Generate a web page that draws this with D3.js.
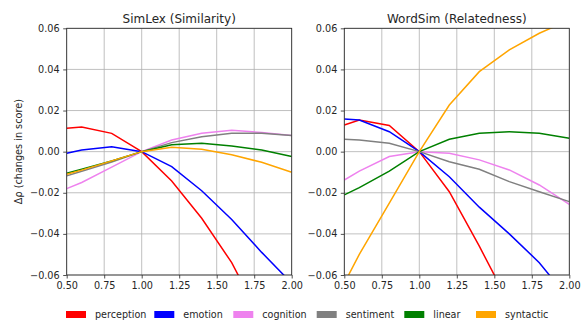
<!DOCTYPE html>
<html lang="en">
<head>
<meta charset="utf-8">
<script src="https://cdn.jsdelivr.net/npm/d3@7"></script>
<style>
  body { margin: 0; background: #fff; }
  svg text { font-family: "DejaVu Sans", sans-serif; fill: #262626; }
</style>
</head>
<body>
<div id="chart"></div>
<script>
// scaling factors on the x axis
var scales = [0.5, 0.6, 0.8, 1.0, 1.2, 1.4, 1.6, 1.8, 2.0];
var seriesNames = ["perception", "emotion", "cognition", "sentiment", "linear", "syntactic"];
var seriesColors = ["#ff0000", "#0000ff", "#ee82ee", "#808080", "#008000", "#ffa500"];
var xTicks = [0.5, 0.75, 1.0, 1.25, 1.5, 1.75, 2.0];
var yTicks = [-0.06, -0.04, -0.02, 0.0, 0.02, 0.04, 0.06];

// SimLex (Similarity)
var simPerception = [0.0114, 0.0120, 0.0089, 0, -0.0143, -0.0324, -0.054, -0.082, -0.105];
var simEmotion    = [-0.0008, 0.0008, 0.0024, 0, -0.0073, -0.0190, -0.033, -0.049, -0.064];
var simCognition  = [-0.0180, -0.0150, -0.0075, 0, 0.0057, 0.0089, 0.0104, 0.0093, 0.0078];
var simSentiment  = [-0.0118, -0.0095, -0.0050, 0, 0.0044, 0.0073, 0.0089, 0.0089, 0.0078];
var simLinear     = [-0.0105, -0.0085, -0.0045, 0, 0.0033, 0.0041, 0.0028, 0.0008, -0.0024];
var simSyntactic  = [-0.0110, -0.0090, -0.0045, 0, 0.0021, 0.0012, -0.0015, -0.0052, -0.0100];

// WordSim (Relatedness)
var wsPerception = [0.0130, 0.0154, 0.0127, 0, -0.0195, -0.046, -0.074, -0.100, -0.125];
var wsEmotion    = [0.0159, 0.0154, 0.0097, 0, -0.0122, -0.0270, -0.040, -0.054, -0.072];
var wsCognition  = [-0.0138, -0.0095, -0.0024, 0, -0.0008, -0.0040, -0.0089, -0.0162, -0.0256];
var wsSentiment  = [0.0060, 0.0057, 0.0041, 0, -0.0049, -0.0086, -0.0146, -0.0195, -0.0243];
var wsLinear     = [-0.0210, -0.0175, -0.0095, 0, 0.0060, 0.0089, 0.0097, 0.0089, 0.0065];
var wsSyntactic  = [-0.064, -0.050, -0.025, 0, 0.0227, 0.0389, 0.0495, 0.0576, 0.064];

var panels = [
  {title: "SimLex (Similarity)", left: 66.7, series: [simPerception, simEmotion, simCognition, simSentiment, simLinear, simSyntactic]},
  {title: "WordSim (Relatedness)", left: 344.3, series: [wsPerception, wsEmotion, wsCognition, wsSentiment, wsLinear, wsSyntactic]}
];

var W = 581, H = 320;
var pw = 225, plotTop = 28.3, plotBottom = 275;

var svg = d3.select("#chart").append("svg")
    .attr("width", W)
    .attr("height", H);

var y = d3.scaleLinear().domain([-0.06, 0.06]).range([plotBottom, plotTop]);
var fmt = d3.format(".2f");

panels.forEach(function(p, pi) {
  var x = d3.scaleLinear().domain([0.5, 2.0]).range([p.left, p.left + pw]);
  var g = svg.append("g");

  // grid
  g.append("g").selectAll("line").data(xTicks).enter().append("line")
      .attr("x1", function(d) { return x(d); }).attr("x2", function(d) { return x(d); })
      .attr("y1", plotTop).attr("y2", plotBottom)
      .attr("stroke", "#b0b0b0").attr("stroke-width", 0.8);
  g.append("g").selectAll("line").data(yTicks).enter().append("line")
      .attr("y1", function(d) { return y(d); }).attr("y2", function(d) { return y(d); })
      .attr("x1", p.left).attr("x2", p.left + pw)
      .attr("stroke", "#b0b0b0").attr("stroke-width", 0.8);

  // lines, clipped to the axes
  var clipId = "clip" + pi;
  svg.append("clipPath").attr("id", clipId).append("rect")
      .attr("x", p.left).attr("y", plotTop).attr("width", pw).attr("height", plotBottom - plotTop);

  var line = d3.line()
      .x(function(d, i) { return x(scales[i]); })
      .y(function(d) { return y(d); });

  g.append("g").attr("clip-path", "url(#" + clipId + ")")
    .selectAll("path").data(p.series).enter().append("path")
      .attr("d", line)
      .attr("fill", "none")
      .attr("stroke", function(d, i) { return seriesColors[i]; })
      .attr("stroke-width", 1.5);

  // axes
  var xa = g.append("g").attr("transform", "translate(0," + plotBottom + ")")
      .call(d3.axisBottom(x).tickValues(xTicks).tickFormat(fmt).tickSize(3.5).tickPadding(3.5).tickSizeOuter(0));
  var ya = g.append("g").attr("transform", "translate(" + p.left + ",0)")
      .call(d3.axisLeft(y).tickValues(yTicks).tickFormat(fmt).tickSize(3.5).tickPadding(3.5).tickSizeOuter(0));
  [xa, ya].forEach(function(a) {
    a.select(".domain").remove();
    a.selectAll("line").attr("stroke", "#262626").attr("stroke-width", 0.8);
    a.selectAll("text").attr("font-size", "9.7px").attr("fill", "#262626")
      .attr("font-family", "DejaVu Sans, sans-serif");
  });

  // frame
  g.append("rect")
      .attr("x", p.left).attr("y", plotTop).attr("width", pw).attr("height", plotBottom - plotTop)
      .attr("fill", "none").attr("stroke", "#262626").attr("stroke-width", 0.8);

  g.append("text")
      .attr("x", p.left + pw / 2).attr("y", 22.5)
      .attr("text-anchor", "middle")
      .attr("font-size", "12px")
      .text(p.title);
});

// y label
svg.append("text")
    .attr("transform", "translate(22," + ((plotTop + plotBottom) / 2) + ") rotate(-90)")
    .attr("text-anchor", "middle")
    .attr("font-size", "9.7px")
    .text("Δρ (changes in score)");

// legend
var legendX = [66, 154.3, 233.3, 316.7, 404.3, 476];
var leg = svg.append("g").selectAll("g").data(seriesNames).enter().append("g")
    .attr("transform", function(d, i) { return "translate(" + legendX[i] + ",311)"; });
leg.append("rect")
    .attr("width", 20).attr("height", 7)
    .attr("fill", function(d, i) { return seriesColors[i]; });
leg.append("text")
    .attr("x", 29).attr("y", 7)
    .attr("font-size", "9.6px")
    .text(function(d) { return d; });
</script>
</body>
</html>
